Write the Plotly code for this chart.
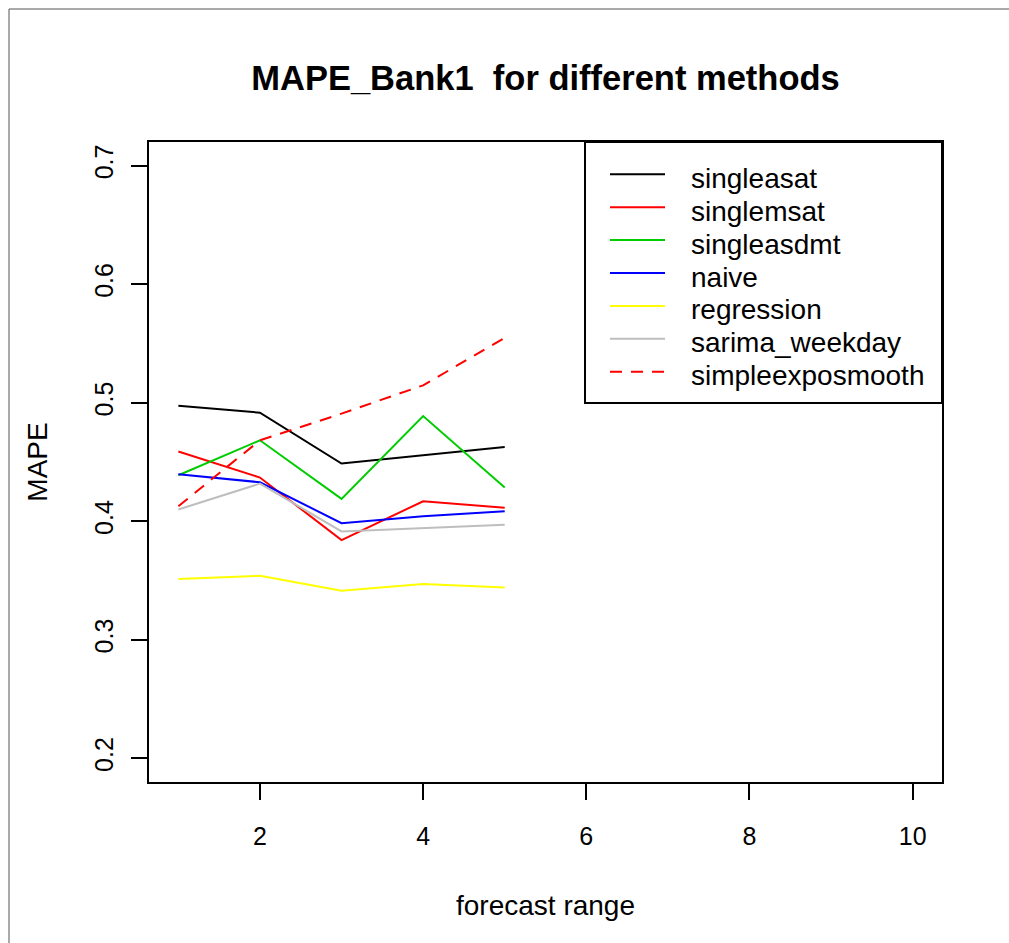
import plotly.graph_objects as go

# forecast horizon (days ahead)
horizon = [1, 2, 3, 4, 5]

# MAPE per method
singleasat = [0.4975, 0.4916, 0.4487, 0.4557, 0.4627]
singlemsat = [0.4588, 0.4369, 0.3841, 0.4169, 0.4113]
singleasdmt = [0.4388, 0.4683, 0.4189, 0.4888, 0.4285]
naive = [0.4397, 0.4329, 0.3984, 0.4043, 0.4085]
regression = [0.3512, 0.3540, 0.3414, 0.3470, 0.3442]
sarima_weekday = [0.4099, 0.4318, 0.3914, 0.3939, 0.3970]
simpleexposmooth = [0.4127, 0.4683, 0.4908, 0.5147, 0.5548]

method_names = ["singleasat", "singlemsat", "singleasdmt", "naive",
                "regression", "sarima_weekday", "simpleexposmooth"]
method_values = [singleasat, singlemsat, singleasdmt, naive,
                 regression, sarima_weekday, simpleexposmooth]
method_colors = ["#000000", "#FF0000", "#00CD00", "#0000FF",
                 "#FFFF00", "#BEBEBE", "#FF0000"]
method_dash = ["solid"] * 6 + ["12px,9px"]

x_ticks = [2, 4, 6, 8, 10]
y_ticks = [0.2, 0.3, 0.4, 0.5, 0.6, 0.7]

W, H = 1009, 943
ML, MR, MT, MB = 149, 67, 142, 161
PW, PH = W - ML - MR, H - MT - MB


def px_x(p):
    return (p - ML) / PW


def px_y(p):
    return 1 - (p - MT) / PH


FONT = "Liberation Sans, Arial, Helvetica, sans-serif"

fig = go.Figure()
for name, vals, col, dash in zip(method_names, method_values, method_colors, method_dash):
    fig.add_trace(go.Scatter(
        x=horizon, y=vals, name=name, mode="lines",
        line=dict(color=col, width=2, dash=dash),
        showlegend=False,
    ))

axis_common = dict(
    showgrid=False, zeroline=False,
    showline=True, mirror=True, linecolor="black", linewidth=2,
    ticks="outside", ticklen=16, tickwidth=2, tickcolor="black",
    tickfont=dict(family=FONT, size=25, color="black"),
)

fig.update_xaxes(
    range=[0.64, 10.36], tickvals=x_ticks, ticktext=[str(v) for v in x_ticks],
    ticklabelstandoff=15,
    title=dict(text="forecast range", font=dict(family=FONT, size=28, color="black"),
               standoff=46),
    **axis_common,
)
fig.update_yaxes(
    range=[0.18, 0.72], tickvals=y_ticks, ticktext=[f"{v:.1f}" for v in y_ticks],
    tickangle=-90, ticklabelstandoff=8,
    title=dict(text="MAPE", font=dict(family=FONT, size=28, color="black"),
               standoff=34),
    **axis_common,
)

# legend frame
shapes = [
    dict(type="rect", xref="paper", yref="paper",
         x0=px_x(585), x1=1.0, y0=px_y(403), y1=1.0,
         line=dict(color="black", width=2), fillcolor="white", layer="above"),
    # outer page frame (top and left edges)
    dict(type="line", xref="paper", yref="paper",
         x0=px_x(9), x1=px_x(W + 5), y0=px_y(9), y1=px_y(9),
         line=dict(color="#555555", width=1)),
    dict(type="line", xref="paper", yref="paper",
         x0=px_x(9), x1=px_x(9), y0=px_y(9), y1=px_y(H + 5),
         line=dict(color="#555555", width=1)),
]

# legend entries: sample line + label
annotations = []
row0, row_step = 174.3, 32.9
for i, (name, col, dash) in enumerate(zip(method_names, method_colors, method_dash)):
    yy = row0 + i * row_step
    shapes.append(dict(
        type="line", xref="paper", yref="paper",
        x0=px_x(610), x1=px_x(665), y0=px_y(yy), y1=px_y(yy),
        line=dict(color=col, width=2, dash=dash), layer="above",
    ))
    annotations.append(dict(
        text=name, xref="paper", yref="paper", x=px_x(689), y=px_y(yy + 4),
        xanchor="left", yanchor="middle", showarrow=False,
        font=dict(family=FONT, size=28, color="black"),
    ))

fig.update_layout(
    width=W, height=H,
    margin=dict(l=ML, r=MR, t=MT, b=MB, pad=0),
    paper_bgcolor="white", plot_bgcolor="white",
    title=dict(text="MAPE_Bank1\u00a0 for different methods",
               font=dict(family=FONT, size=34.5, color="black", weight="bold"),
               x=px_x(545.5), xref="paper", xanchor="center",
               y=1 - 77.5 / H, yanchor="middle"),
    showlegend=False,
    shapes=shapes,
    annotations=annotations,
)

fig.write_html("out.html")
